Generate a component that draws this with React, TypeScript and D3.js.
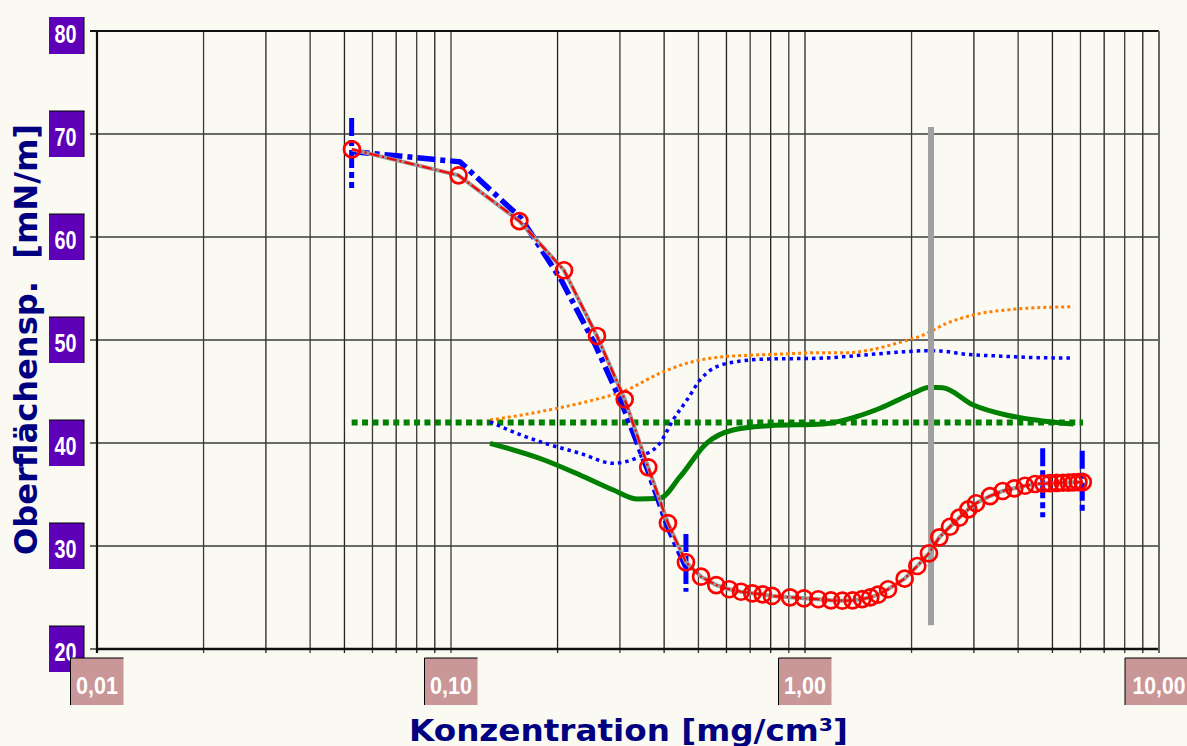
import React from "react";
import * as d3 from "d3";

// ---- data ----
const redX = [0.0525, 0.105, 0.156, 0.2086, 0.2585, 0.3095, 0.3607, 0.41, 0.461, 0.5085, 0.5615, 0.611, 0.6595, 0.7098, 0.7595, 0.807, 0.907, 0.9936, 1.09, 1.184, 1.275, 1.363, 1.451, 1.529, 1.608, 1.716, 1.912, 2.076, 2.24, 2.396, 2.568, 2.729, 2.893, 3.042, 3.332, 3.618, 3.902, 4.183, 4.464, 4.713, 4.92, 5.14, 5.35, 5.55, 5.73, 5.92, 6.09];
const redY = [68.51, 65.99, 61.55, 56.77, 50.39, 44.24, 37.64, 32.23, 28.42, 27.02, 26.21, 25.8, 25.56, 25.41, 25.31, 25.15, 25.02, 24.92, 24.83, 24.73, 24.69, 24.73, 24.85, 25.02, 25.27, 25.8, 26.83, 28.06, 29.29, 30.84, 31.87, 32.75, 33.56, 34.15, 34.85, 35.34, 35.6, 35.85, 36.02, 36.06, 36.1, 36.12, 36.14, 36.16, 36.18, 36.2, 36.2];

const blueX = [0.0524, 0.106, 0.158, 0.205, 0.255, 0.305, 0.36, 0.41, 0.46];
const blueY = [68.3, 67.3, 61.8, 55.8, 49.6, 43.7, 37.3, 31.8, 28.0];

const errX = [0.0524, 0.461, 4.693, 6.07];
const errLo = [64.76, 25.56, 32.8, 33.3];
const errHi = [71.55, 31.17, 39.5, 39.25];

const orangeX = [0.1289, 0.1575, 0.2033, 0.2524, 0.3135, 0.3889, 0.4639, 0.5389, 0.7145, 0.868, 1.08, 1.312, 1.56, 1.815, 2.159, 2.513, 2.988, 3.877, 4.818, 5.73];
const orangeY = [42.23, 42.7, 43.43, 44.17, 45.15, 46.77, 47.74, 48.22, 48.54, 48.64, 48.77, 48.77, 49.1, 49.68, 50.49, 51.62, 52.43, 52.98, 53.17, 53.23];

const bdX = [0.1289, 0.1575, 0.1873, 0.2314, 0.2875, 0.3402, 0.3889, 0.4237, 0.4639, 0.5055, 0.5503, 0.6401, 0.7943, 1.08, 1.46, 1.815, 2.21, 2.41, 2.86, 3.5, 4.63, 5.73];
const bdY = [42.07, 40.78, 39.9, 39.0, 38.03, 38.67, 39.97, 42.23, 44.17, 46.12, 47.25, 47.89, 48.16, 48.22, 48.54, 48.8, 48.96, 48.93, 48.61, 48.45, 48.28, 48.25];

const gX = [0.1289, 0.1833, 0.2314, 0.2875, 0.3368, 0.3889, 0.4438, 0.527, 0.6261, 0.7943, 1.126, 1.395, 1.63, 2.02, 2.25, 2.45, 2.988, 3.7, 4.63, 5.73];
const gY = [39.97, 38.35, 36.89, 35.44, 34.56, 34.63, 36.73, 39.97, 41.26, 41.68, 41.84, 42.55, 43.37, 44.83, 45.41, 45.37, 43.69, 42.72, 42.17, 41.84];

const refLineX = [0.0524, 6.1];
const refLineY = 42;

const markerX = 2.27;
const markerY = [22.3, 70.68];

const yTicks = [20, 30, 40, 50, 60, 70, 80];
const xMajor = [0.01, 0.1, 1, 10];
const xMajorLabels = ["0,01", "0,10", "1,00", "10,00"];

const xTitle = "Konzentration [mg/cm³]";
const yTitle = "Oberflächensp.  [mN/m]";

export default function App() {
  const W = 1187, H = 746;
  const x = d3.scaleLog().domain([0.01, 10]).range([97, 1159]);
  const y = d3.scaleLinear().domain([20, 80]).range([649, 31]);

  const minor: number[] = [];
  for (let e = -2; e < 1; e++) for (let k = 1; k <= 9; k++) minor.push(k * Math.pow(10, e));
  minor.push(10);

  const lin = d3.line<[number, number]>().x(d => x(d[0])).y(d => y(d[1]));
  const smooth = d3.line<[number, number]>().x(d => x(d[0])).y(d => y(d[1])).curve(d3.curveMonotoneX);
  const zip = (a: number[], b: number[]) => a.map((v, i) => [v, b[i]] as [number, number]);

  const bg = "#FAF9F2";
  const purple = "#5F00B9";
  const rose = "#C99797";
  const labelFont = "'Liberation Sans', Arial, sans-serif";

  return (
    <svg width={W} height={H} style={{ position: "absolute", left: 0, top: 0, display: "block" }}>
      <rect x={0} y={0} width={W} height={H} fill={bg} />
      <defs>
        <clipPath id="topclip"><rect x={0} y={17} width={W} height={H} /></clipPath>
      </defs>

      {/* vertical grid */}
      {minor.map((v, i) => (
        <line key={"vg" + i} x1={x(v)} x2={x(v)} y1={y(80)} y2={y(20) + 4} stroke={i % 2 ? "#3a3a3a" : "#222"} strokeWidth={1.3} />
      ))}
      {/* horizontal grid */}
      {yTicks.map((v) => (
        <line key={"hg" + v} x1={90} x2={x(10)} y1={y(v)} y2={y(v)} stroke={v === 80 ? "#111" : "#3a3a3a"} strokeWidth={v === 80 ? 2 : 1.5} />
      ))}
      {/* axes */}
      <line x1={97} x2={97} y1={y(80)} y2={y(20) + 4} stroke="#111" strokeWidth={2.2} />
      <line x1={97} x2={x(10)} y1={y(20)} y2={y(20)} stroke="#111" strokeWidth={2.4} />
      <line x1={x(10)} x2={x(10)} y1={y(80)} y2={y(20) + 4} stroke="#666" strokeWidth={2} />

      {/* green dotted reference */}
      <line x1={x(refLineX[0])} x2={x(refLineX[1])} y1={y(refLineY)} y2={y(refLineY)} stroke="#008000" strokeWidth={6} strokeDasharray="6 4.4" />
      {/* orange dotted */}
      <path d={smooth(zip(orangeX, orangeY)) || ""} fill="none" stroke="#FF8000" strokeWidth={3} strokeDasharray="3 3" />
      {/* blue dotted */}
      <path d={smooth(zip(bdX, bdY)) || ""} fill="none" stroke="#0000FF" strokeWidth={3.5} strokeDasharray="3.5 4" />
      {/* green solid */}
      <path d={smooth(zip(gX, gY)) || ""} fill="none" stroke="#008000" strokeWidth={5} strokeLinejoin="round" />

      {/* gray vertical marker */}
      <line x1={x(markerX)} x2={x(markerX)} y1={y(markerY[0])} y2={y(markerY[1])} stroke="#A0A0A0" strokeWidth={6} />

      {/* blue dash-dot line */}
      <path d={lin(zip(blueX, blueY)) || ""} fill="none" stroke="#0000FF" strokeWidth={5.5} strokeDasharray="18 5 5 5" />
      {/* blue error bars */}
      {errX.map((v, i) => (
        <line key={"eb" + i} x1={x(v)} x2={x(v)} y1={y(errHi[i])} y2={y(errLo[i])} stroke="#0000FF" strokeWidth={5} strokeDasharray="18 4 6 4" />
      ))}

      {/* red series */}
      <path d={lin(zip(redX, redY)) || ""} fill="none" stroke="#999" strokeWidth={4} />
      <path d={lin(zip(redX, redY)) || ""} fill="none" stroke="#FF0000" strokeWidth={2.2} strokeDasharray="10 3 2 3" />
      {redX.map((v, i) => (
        <circle key={"c" + i} cx={x(v)} cy={y(redY[i])} r={8} fill="none" stroke="#FF0000" strokeWidth={2.7} />
      ))}

      {/* y tick labels */}
      <g clipPath="url(#topclip)">
        {yTicks.map((v) => (
          <g key={"yl" + v}>
            <rect x={49} y={y(v) - 23} width={35} height={46} fill={purple} />
            <line x1={84} x2={84} y1={y(v) - 23} y2={y(v) + 23} stroke="#000" strokeWidth={1} />
            <line x1={49} x2={84.5} y1={y(v) - 23} y2={y(v) - 23} stroke="#000" strokeWidth={1} />
            <text x={65.5} y={y(v) + 12} fill="#fff" fontFamily={labelFont} fontWeight="bold" fontSize={25} textAnchor="middle" textLength={22} lengthAdjust="spacingAndGlyphs">{v}</text>
          </g>
        ))}
      </g>

      {/* x tick labels */}
      {xMajor.map((v, i) => {
        const cx = x(v);
        const w = xMajorLabels[i].length > 4 ? 68 : 53;
        const tw = xMajorLabels[i].length > 4 ? 53 : 42;
        return (
          <g key={"xl" + i}>
            <rect x={cx - w / 2} y={658} width={w} height={47} fill={rose} />
            <line x1={cx - w / 2} x2={cx - w / 2} y1={658} y2={705} stroke="#000" strokeWidth={1} />
            <line x1={cx - w / 2} x2={cx + w / 2} y1={658} y2={658} stroke="#000" strokeWidth={1} />
            <text x={cx} y={694} fill="#fff" fontFamily={labelFont} fontWeight="bold" fontSize={24.5} textAnchor="middle" textLength={tw} lengthAdjust="spacingAndGlyphs">{xMajorLabels[i]}</text>
          </g>
        );
      })}

      {/* axis titles */}
      <text x={409} y={741} fill="#000080" fontFamily="'DejaVu Sans', Verdana, sans-serif" fontWeight="bold" fontSize={31} textLength={439} lengthAdjust="spacingAndGlyphs">{xTitle}</text>
      <text transform="translate(37,555) rotate(-90)" x={0} y={0} fill="#000080" fontFamily="'DejaVu Sans', Verdana, sans-serif" fontWeight="bold" fontSize={32} textLength={431} lengthAdjust="spacingAndGlyphs" style={{ whiteSpace: "pre" }}>{yTitle}</text>
    </svg>
  );
}
